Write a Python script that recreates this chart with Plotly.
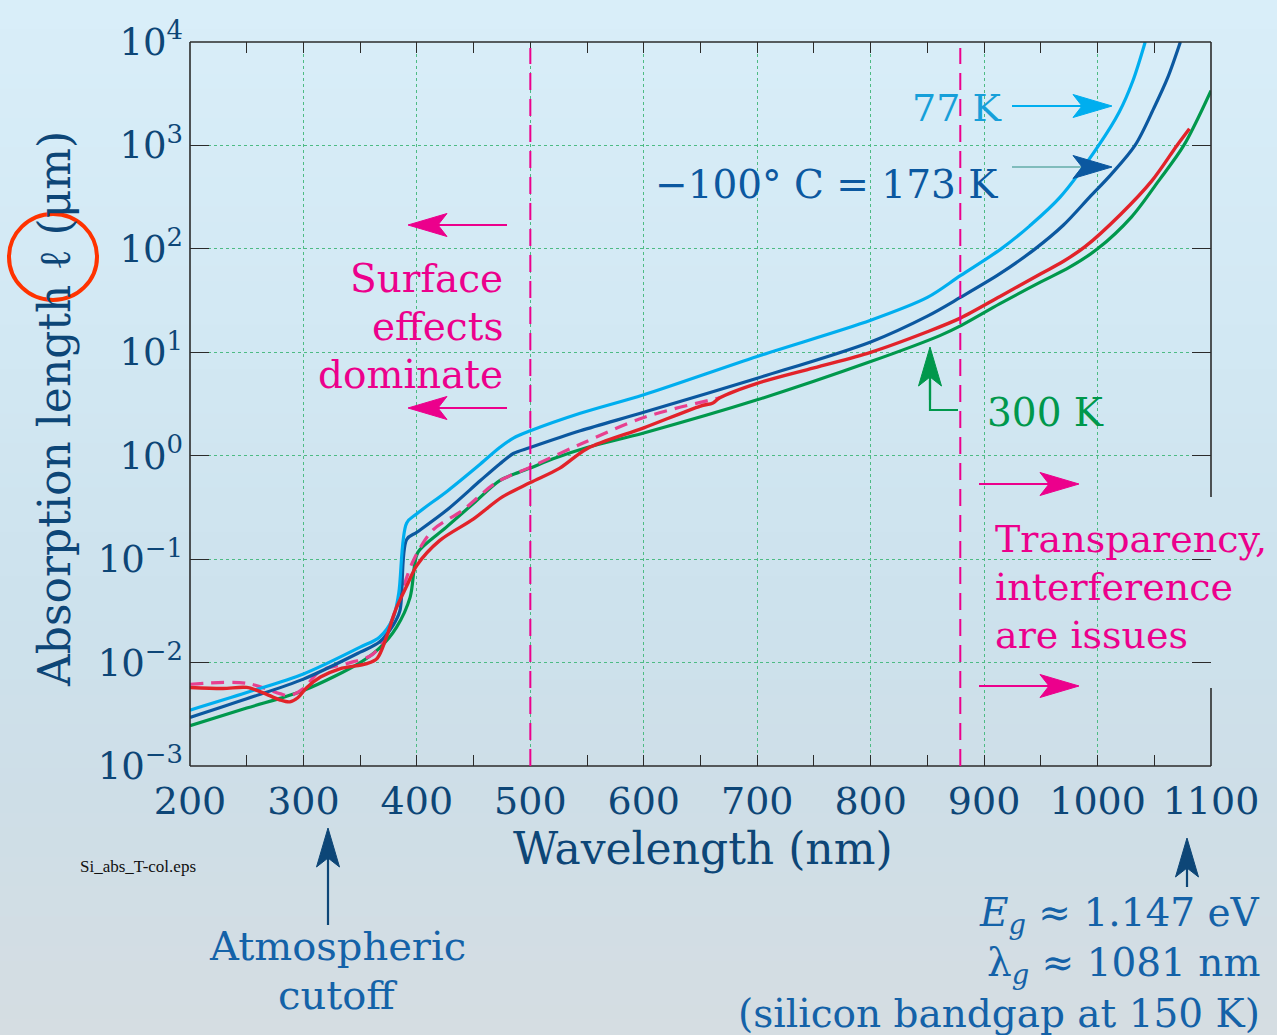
import plotly.graph_objects as go

# ---------------- data (absorption length in micrometres) ----------------
wl_77 = [200, 250, 300, 350, 367, 379, 384, 391, 400, 427, 456, 473, 485, 500, 544,
         600, 700, 800, 850, 879, 915, 940, 967, 1001, 1019, 1031, 1042]
ell_77 = [0.00347, 0.00513, 0.00776, 0.0141, 0.0176, 0.0269, 0.0468, 0.224, 0.275,
          0.457, 0.832, 1.20, 1.48, 1.74, 2.57, 3.89, 9.12, 20.4, 33.9, 55.0, 100,
          166, 316, 1000, 2090, 4170, 10000]

wl_173 = [200, 250, 300, 350, 367, 379, 385, 391, 400, 427, 456, 473, 485, 500, 544,
          600, 700, 800, 850, 879, 914, 945, 970, 993, 1012, 1033, 1050, 1062, 1073]
ell_173 = [0.00295, 0.00447, 0.00692, 0.0126, 0.0158, 0.0229, 0.0316, 0.155, 0.182,
           0.302, 0.575, 0.832, 1.05, 1.20, 1.74, 2.63, 5.62, 12.6, 22.4, 33.9, 57.5,
           100, 170, 316, 525, 1000, 2340, 4570, 10000]

wl_300 = [200, 250, 300, 350, 367, 382, 394, 398, 401, 426, 450, 473, 490, 500, 520,
          550, 600, 700, 800, 861, 880, 914, 950, 975, 1000, 1030, 1054, 1076, 1100]
ell_300 = [0.00245, 0.00363, 0.00537, 0.0100, 0.0138, 0.0219, 0.0427, 0.0871, 0.117,
           0.204, 0.347, 0.575, 0.692, 0.759, 0.933, 1.20, 1.66, 3.47, 8.13, 14.5,
           18.2, 29.5, 47.9, 66.1, 100, 204, 457, 1000, 3390]

wl_meas = [200, 229, 250, 264, 279, 288, 295, 303, 315, 332, 356, 365, 373, 382, 391,
           400, 420, 450, 475, 500, 526, 550, 600, 650, 661, 667, 700, 750, 800, 850,
           879, 914, 950, 970, 989, 1020, 1048, 1070, 1081]
ell_meas = [0.00575, 0.00562, 0.00575, 0.00513, 0.00437, 0.00417, 0.00457, 0.00575,
            0.00724, 0.00871, 0.00977, 0.0110, 0.0174, 0.0339, 0.0550, 0.0871, 0.151,
            0.245, 0.398, 0.550, 0.759, 1.17, 1.86, 3.02, 3.24, 3.63, 5.01, 7.08, 10.0,
            15.8, 21.4, 34.7, 57.5, 75.9, 105, 214, 457, 1000, 1450]

wl_dash = [200, 250, 279, 288, 300, 315, 338, 361, 373, 385, 397, 414, 440, 470, 500,
           544, 600, 667]
ell_dash = [0.00617, 0.00631, 0.00501, 0.00479, 0.00562, 0.00832, 0.00977, 0.0120,
            0.0191, 0.0427, 0.0977, 0.191, 0.295, 0.550, 0.776, 1.29, 2.34, 3.63]

boundary_wl = [500, 879]

x_ticks = [200, 300, 400, 500, 600, 700, 800, 900, 1000, 1100]
y_ticks = [1e-3, 1e-2, 1e-1, 1e0, 1e1, 1e2, 1e3, 1e4]
y_ticktext = ["10<sup>−3</sup>", "10<sup>−2</sup>", "10<sup>−1</sup>", "10<sup>0</sup>",
              "10<sup>1</sup>", "10<sup>2</sup>", "10<sup>3</sup>", "10<sup>4</sup>"]

# ---------------- geometry helpers ----------------
W, H = 1277, 1035
ML, MR, MT, MB = 190, 66, 42, 269
PW = W - ML - MR
PH = H - MT - MB


def px(x):
    return (x - ML) / PW


def py(y):
    return (H - MB - y) / PH


SERIF = "DejaVu Serif"
NAVY = "#0d4677"
MAG = "#ec008c"
C77 = "#00aeef"
C173 = "#0b58a0"
C300 = "#00984c"
CRED = "#e2232a"
CDASH = "#e8408f"
TXTBLUE = "#1462a8"

fig = go.Figure()


def curve(x, y, color, width=3.2, dash=None):
    fig.add_trace(go.Scatter(x=x, y=y, mode="lines",
                             line=dict(color=color, width=width, dash=dash,
                                       shape="spline", smoothing=0.9),
                             hoverinfo="skip"))


curve(wl_300, ell_300, C300)
curve(wl_dash, ell_dash, CDASH, dash="13px,8px")
curve(wl_173, ell_173, C173)
curve(wl_77, ell_77, C77)
curve(wl_meas, ell_meas, CRED, width=3.4)

shapes = []

# background gradient
stops = [(0, (217, 238, 249)), (300, (211, 233, 244)), (600, (205, 226, 237)),
         (800, (206, 222, 231)), (1035, (213, 221, 226))]
N = 70
for i in range(N):
    y0 = H * i / N
    y1 = H * (i + 1) / N
    ym = (y0 + y1) / 2
    for j in range(len(stops) - 1):
        if stops[j][0] <= ym <= stops[j + 1][0]:
            t = (ym - stops[j][0]) / (stops[j + 1][0] - stops[j][0])
            c = [round(stops[j][1][k] + t * (stops[j + 1][1][k] - stops[j][1][k])) for k in range(3)]
            break
    shapes.append(dict(type="rect", xref="paper", yref="paper", layer="below",
                       x0=px(-2), x1=px(W + 2), y0=py(y1 + 0.5), y1=py(y0 - 0.5),
                       line=dict(width=0), fillcolor="rgb(%d,%d,%d)" % tuple(c)))

# frame
FR = dict(color="#2b2b2b", width=1.6)
shapes += [
    dict(type="line", xref="paper", yref="paper", x0=0, x1=0, y0=0, y1=1, line=FR),
    dict(type="line", xref="paper", yref="paper", x0=0, x1=1, y0=1, y1=1, line=FR),
    dict(type="line", xref="paper", yref="paper", x0=0, x1=1, y0=0, y1=0, line=FR),
    dict(type="line", xref="paper", yref="paper", x0=1, x1=1, y0=py(497), y1=1, line=FR),
    dict(type="line", xref="paper", yref="paper", x0=1, x1=1, y0=0, y1=py(688), line=FR),
]

# region boundaries
for b in boundary_wl:
    shapes.append(dict(type="line", xref="x", yref="paper", x0=b, x1=b, y0=0, y1=py(48),
                       line=dict(color=MAG, width=2, dash="17px,9px")))


def arrow(tail, tip, color, shaft_color=None, L=39, Wd=23, notch=9, lw=2.2):
    (x0, y0), (x1, y1) = tail, tip
    dx, dy = x1 - x0, y1 - y0
    n = (dx * dx + dy * dy) ** 0.5
    ux, uy = dx / n, dy / n
    vx, vy = -uy, ux
    bx, by = x1 - ux * L, y1 - uy * L
    nx_, ny_ = x1 - ux * (L - notch), y1 - uy * (L - notch)
    out = [dict(type="line", xref="paper", yref="paper",
                x0=px(x0), y0=py(y0), x1=px(nx_), y1=py(ny_),
                line=dict(color=shaft_color or color, width=lw))]
    pts = [(x1, y1), (bx + vx * Wd / 2, by + vy * Wd / 2), (nx_, ny_),
           (bx - vx * Wd / 2, by - vy * Wd / 2)]
    path = "M " + " L ".join("%.5f,%.5f" % (px(a), py(b)) for a, b in pts) + " Z"
    out.append(dict(type="path", xref="paper", yref="paper", path=path,
                    fillcolor=color, line=dict(color=color, width=1)))
    return out


shapes += arrow((1012, 106), (1112, 106), C77)
shapes += arrow((1012, 167), (1112, 167), C173, shaft_color="#80bcbc")
shapes.append(dict(type="path", xref="paper", yref="paper",
                   path="M %.5f,%.5f L %.5f,%.5f L %.5f,%.5f" % (px(958), py(410), px(930), py(410), px(930), py(380)),
                   line=dict(color=C300, width=2.2)))
shapes += arrow((930, 400), (930, 347), C300)
shapes += arrow((507, 225), (408, 225), MAG)
shapes += arrow((507, 408), (408, 408), MAG)
shapes += arrow((979, 484), (1079, 484), MAG)
shapes += arrow((979, 686), (1079, 686), MAG)
shapes += arrow((328, 925), (328, 828), NAVY)
shapes += arrow((1187, 887), (1187, 838), NAVY)

# highlight circle around the ell symbol
shapes.append(dict(type="circle", xref="paper", yref="paper",
                   x0=px(9), x1=px(97), y0=py(300), y1=py(214),
                   line=dict(color="#ff3300", width=4)))

annotations = []


def text(x, y, s, color, size=39, xanchor="center", font=SERIF, angle=0):
    annotations.append(dict(x=px(x), y=py(y), xref="paper", yref="paper", text=s,
                            showarrow=False, xanchor=xanchor, yanchor="middle",
                            textangle=angle,
                            font=dict(family=font, size=size, color=color)))


text(1003, 108, "77 K", "#169fd9", 38, xanchor="right")
text(1000, 185, "−100° C = 173 K", C173, 39, xanchor="right")
text(985, 412, "300 K", C300, 39, xanchor="left")
for s, yy in zip(["Surface", "effects", "dominate"], [278, 326, 374]):
    text(505, yy, s, MAG, 39, xanchor="right")
for s, yy in zip(["Transparency,", "interference", "are issues"], [539, 587, 635]):
    text(993, yy, s, MAG, 38, xanchor="left")
for s, yy in zip(["Atmospheric", "cutoff"], [946, 995]):
    text(337, yy, s, TXTBLUE, 40)
for s, yy in zip(["<i>E</i><sub><i>g</i></sub> ≈ 1.147 eV", "λ<sub><i>g</i></sub> ≈ 1081 nm",
                  "(silicon bandgap at 150 K)"], [915, 965, 1013]):
    text(1262, yy, s, TXTBLUE, 39, xanchor="right")
text(78, 866, "Si_abs_T-col.eps", "#111111", 17, xanchor="left", font="Liberation Serif")
text(703, 848, "Wavelength (nm)", NAVY, 44)
text(55, 409, "Absorption length ℓ (μm)", NAVY, 44, angle=-90)

GRID = dict(showgrid=True, gridcolor="#4dbb84", gridwidth=1, griddash="dot")

fig.update_layout(
    width=W, height=H, autosize=False,
    margin=dict(l=ML, r=MR, t=MT, b=MB),
    paper_bgcolor="rgb(217,238,249)", plot_bgcolor="rgba(0,0,0,0)",
    showlegend=False,
    shapes=shapes, annotations=annotations,
    xaxis=dict(range=[200, 1100], tickvals=x_ticks, ticks="inside", ticklen=11,
               tickwidth=1.4, tickcolor="#2b2b2b", mirror="ticks", showline=False,
               zeroline=False, ticklabelstandoff=9,
               tickfont=dict(family=SERIF, size=38, color=NAVY),
               minor=dict(dtick=50, tick0=0, ticks="inside", ticklen=11, tickwidth=1.4,
                          tickcolor="#2b2b2b", showgrid=False),
               **GRID),
    yaxis=dict(type="log", range=[-3, 4], tickvals=y_ticks, ticktext=y_ticktext,
               ticks="inside", ticklen=19, tickwidth=1.4, tickcolor="#2b2b2b",
               mirror="ticks", showline=False, zeroline=False, ticklabelstandoff=6,
               tickfont=dict(family=SERIF, size=37, color=NAVY),
               **GRID),
)

fig.write_html("out.html", config={"displayModeBar": False},
               post_script="document.body.style.margin='0';document.body.style.padding='0';"
                           "document.documentElement.style.margin='0';")
